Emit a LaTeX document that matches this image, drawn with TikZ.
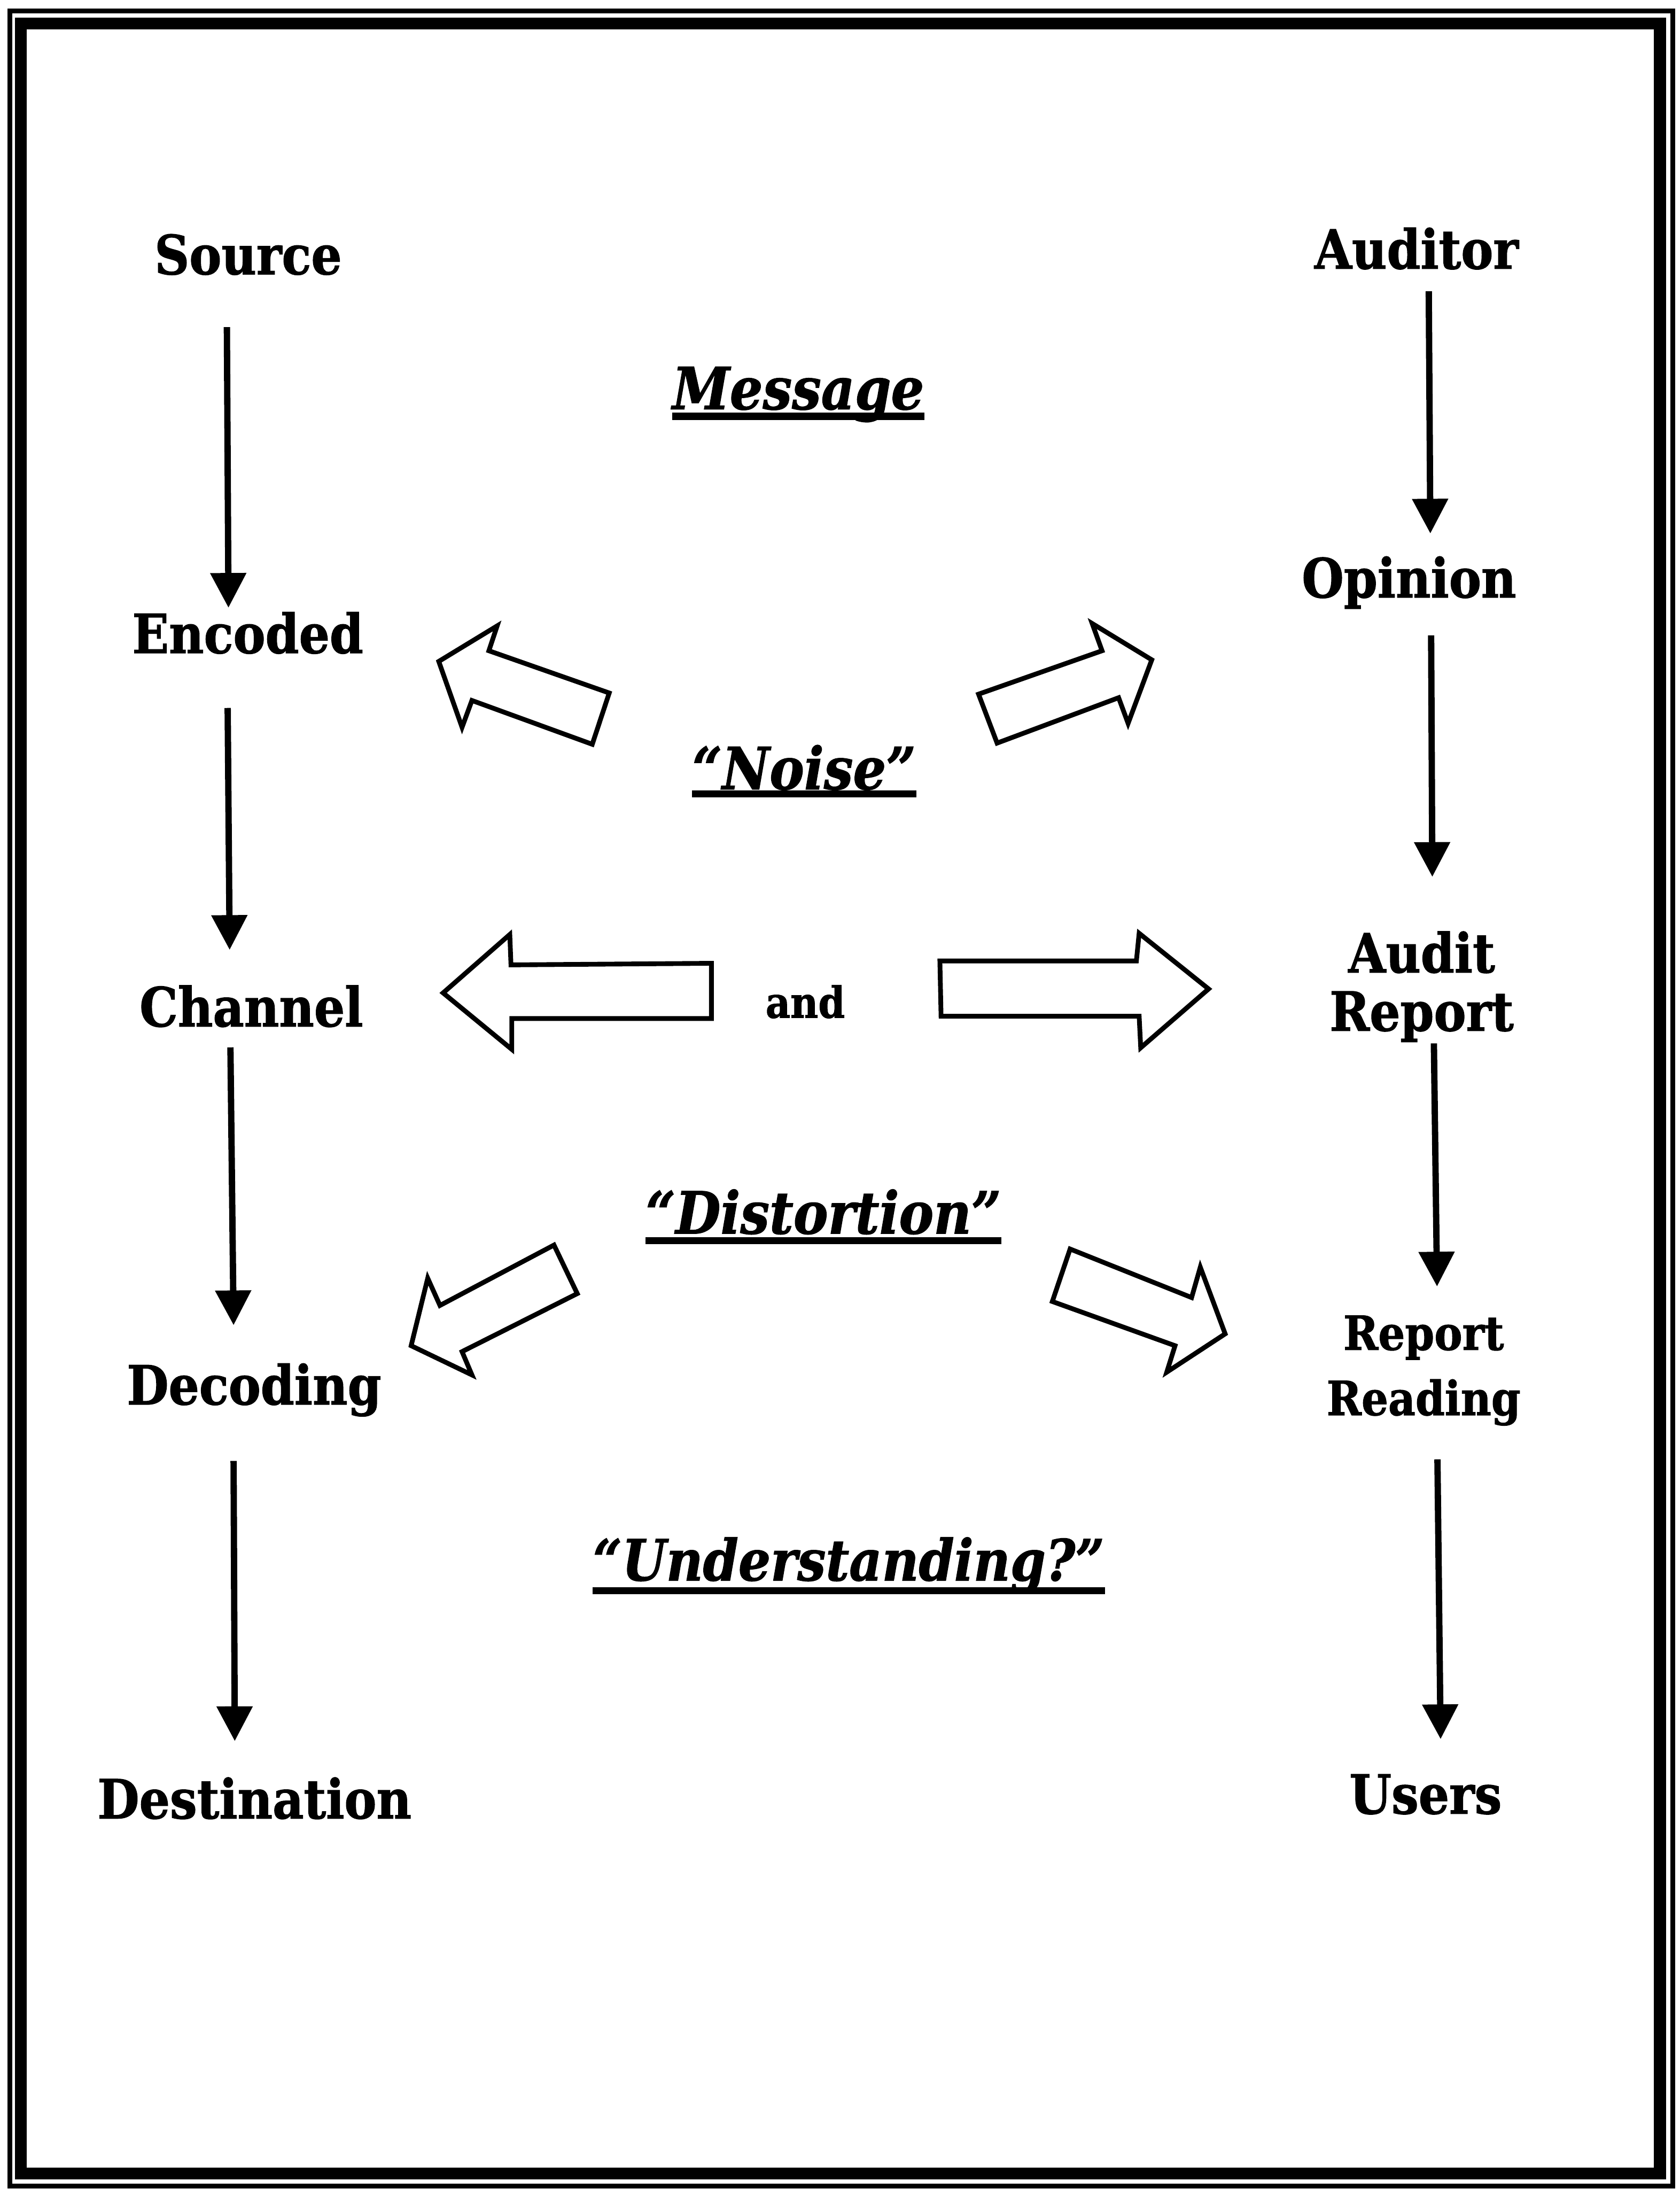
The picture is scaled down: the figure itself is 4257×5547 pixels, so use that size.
\documentclass[tikz,border=0pt]{standalone}
\usepackage{fontspec}
\setmainfont{DejaVu Serif}[FakeStretch=0.89,
  BoldFeatures={FakeBold=1.2}, BoldItalicFeatures={FakeBold=1.2}]
\usetikzlibrary{arrows.meta,calc}

\begin{document}
\begin{tikzpicture}[x=0.01cm,y=-0.01cm,
  term/.style={font=\fontsize{39}{42}\selectfont\bfseries, inner sep=0pt, anchor=base, align=center},
  smallterm/.style={term, font=\fontsize{34}{47}\selectfont\bfseries},
  theme/.style={font=\fontsize{42}{50}\selectfont\bfseries\itshape, inner sep=0pt, anchor=base},
  conj/.style={font=\fontsize{31}{36}\selectfont\bfseries, inner sep=0pt, anchor=base},
  flow/.style={line width=0.16cm, -{Triangle[width=0.88cm,length=0.88cm]}},
  blockarrow/.style={line width=0.12cm, line join=miter},
  uline/.style={line width=0.18cm},
  thinframe/.style={line width=0.12cm},
  thickframe/.style={line width=0.30cm}]

\useasboundingbox (0,0) rectangle (4257,5547);

% double frame
\draw[thinframe] (25,28) rectangle (4239,5540);
\draw[thickframe] (53,60) rectangle (4207,5508);

% communication chain (left)
\node[term] (src) at (629,695)  {Source};
\node[term] (enc) at (628,1655) {Encoded};
\node[term] (chn) at (637,2601) {Channel};
\node[term] (dec) at (644,3559) {Decoding};
\node[term] (dst) at (645,4608) {Destination};

% audit chain (right); two-line nodes sit on the baseline of their last line
\node[term] (aud) at (3590,681)  {Auditor};
\node[term] (opi) at (3571,1514) {Opinion};
\node[term] (rep) at (3603,2612) {Audit\\Report};
\node[smallterm] (rdg) at (3608,3586) {Report\\Reading};
\node[term] (usr) at (3613,4596) {Users};

% themes in the middle
\node[theme] (msg) at (2023,1037) {Message};
\node[theme] (noi) at (2038,2000) {“Noise”};
\node[conj]  (and) at (2041,2579) {and};
\node[theme] (dis) at (2087,3126) {“Distortion”};
\node[theme, font=\fontsize{41}{50}\selectfont\bfseries\itshape] (und) at (2151,4005) {“Understanding?”};

\foreach \n/\d in {msg/18,noi/12,dis/18,und/26}
  \draw[uline] ($(\n.base west)+(0,\d)$) -- ($(\n.base east)+(0,\d)$);

% flow arrows, left column
\draw[flow] ($(src.base)+(-54,134)$) -- ($(enc.base)+(-49,-115)$);
\draw[flow] ($(enc.base)+(-51,139)$) -- ($(chn.base)+(-55,-194)$);
\draw[flow] ($(chn.base)+(-53,53)$)  -- ($(dec.base)+(-52,-201)$);
\draw[flow] ($(dec.base)+(-52,143)$) -- ($(dst.base)+(-50,-196)$);

% flow arrows, right column
\draw[flow] ($(aud.base)+(31,57)$)  -- ($(opi.base)+(54,-162)$);
\draw[flow] ($(opi.base)+(56,96)$)  -- ($(rep.base)+(27,-390)$);
\draw[flow] ($(rep.base)+(31,32)$)  -- ($(rdg.base)+(34,-326)$);
\draw[flow] ($(rdg.base)+(35,112)$) -- ($(usr.base)+(38,-189)$);

% block arrows around the noise and distortion
\draw[blockarrow] (1112,1676) -- (1260,1586) -- (1239,1649) -- (1544,1756)
  -- (1501,1886) -- (1196,1775) -- (1171,1843) -- cycle;
\draw[blockarrow] (2919,1672) -- (2768,1580) -- (2793,1649) -- (2480,1759)
  -- (2527,1883) -- (2835,1768) -- (2859,1833) -- cycle;
\draw[blockarrow] (1123,2516) -- (1292,2368) -- (1295,2445) -- (1803,2441)
  -- (1803,2581) -- (1297,2581) -- (1297,2659) -- cycle;
\draw[blockarrow] (3063,2506) -- (2891,2655) -- (2887,2575) -- (2385,2575)
  -- (2382,2435) -- (2880,2435) -- (2887,2365) -- cycle;
\draw[blockarrow] (1042,3410) -- (1196,3484) -- (1171,3425) -- (1463,3278)
  -- (1404,3155) -- (1115,3308) -- (1084,3239) -- cycle;
\draw[blockarrow] (3105,3380) -- (2957,3477) -- (2978,3410) -- (2667,3298)
  -- (2712,3165) -- (3020,3288) -- (3042,3211) -- cycle;

\end{tikzpicture}
\end{document}
